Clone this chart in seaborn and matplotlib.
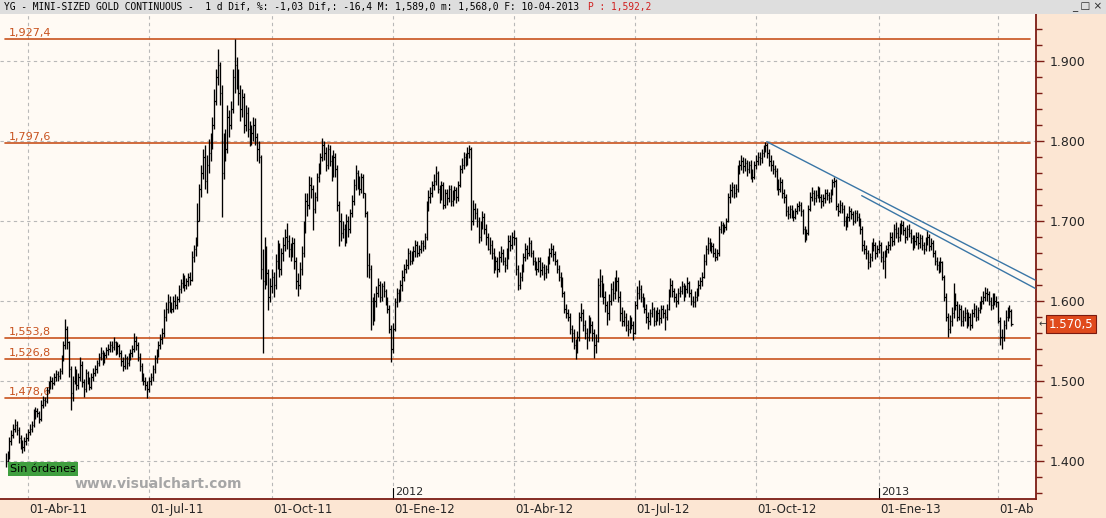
import numpy as np
import pandas as pd
import matplotlib
matplotlib.use("Agg")
import matplotlib.pyplot as plt
from matplotlib.patches import Rectangle
import seaborn as sns

# daily bars, mini-sized gold continuous
close = [
    1400, 1404, 1425, 1432, 1440, 1445, 1438, 1428, 1420, 1417,
    1425, 1428, 1436, 1440, 1445, 1458, 1462, 1460, 1452, 1470,
    1476, 1474, 1488, 1494, 1500, 1497, 1504, 1508, 1506, 1512,
    1528, 1545, 1565, 1548, 1515, 1485, 1500, 1512, 1495, 1505,
    1520, 1498, 1490, 1510, 1500, 1492, 1505, 1510, 1515, 1522,
    1530, 1535, 1526, 1532, 1538, 1540, 1545, 1542, 1548, 1538,
    1543, 1535, 1525, 1518, 1528, 1522, 1530, 1534, 1540, 1550,
    1545, 1530, 1518, 1505, 1500, 1495, 1490, 1500, 1505, 1515,
    1528, 1535, 1545, 1552, 1560, 1580, 1590, 1598, 1594, 1590,
    1600, 1595, 1602, 1615, 1622, 1628, 1620, 1624, 1630, 1626,
    1655, 1665, 1670, 1700, 1740, 1760, 1780, 1750, 1770, 1785,
    1795, 1820, 1850, 1880, 1895, 1860, 1760, 1800, 1790, 1830,
    1820, 1840, 1880, 1895, 1880, 1860, 1840, 1855, 1820, 1835,
    1815, 1800, 1810, 1820, 1805, 1790, 1780, 1640, 1625, 1660,
    1635, 1605, 1618, 1630, 1620, 1650, 1665, 1640, 1660, 1670,
    1680, 1675, 1665, 1660, 1672, 1650, 1625, 1620, 1640, 1660,
    1690, 1725, 1720, 1745, 1740, 1715, 1730, 1755, 1765, 1780,
    1795, 1785, 1770, 1790, 1775, 1760, 1780, 1765, 1720, 1700,
    1685, 1690, 1675, 1700, 1690, 1710, 1725, 1745, 1760, 1750,
    1740, 1755, 1735, 1710, 1645, 1640, 1600, 1580, 1600, 1610,
    1620, 1605, 1618, 1612, 1600, 1590, 1565, 1540, 1565, 1598,
    1610, 1605, 1620, 1630, 1640, 1645, 1660, 1650, 1655, 1662,
    1670, 1660, 1665, 1672, 1668, 1680, 1720, 1730, 1735, 1745,
    1750, 1760, 1740, 1730, 1745, 1720, 1735, 1728, 1740, 1725,
    1732, 1738, 1730, 1745, 1765, 1770, 1780, 1775, 1785, 1790,
    1700, 1715, 1710, 1700, 1680, 1695, 1705, 1690, 1680, 1665,
    1670, 1660, 1645, 1650, 1640, 1655, 1660, 1650, 1645, 1660,
    1675, 1670, 1680, 1678, 1640, 1620, 1630, 1640, 1655, 1665,
    1660, 1672, 1660, 1650, 1645, 1640, 1650, 1638, 1642, 1635,
    1640, 1650, 1660, 1665, 1658, 1650, 1640, 1630, 1625, 1610,
    1590, 1585, 1580, 1565, 1560, 1545, 1540, 1555, 1580, 1585,
    1570, 1560, 1555, 1575, 1570, 1560, 1545, 1550, 1620, 1625,
    1615, 1605, 1595, 1585, 1600, 1615, 1610, 1620, 1625, 1605,
    1585, 1575, 1580, 1570, 1565, 1575, 1570, 1560, 1595, 1610,
    1615, 1605, 1600, 1590, 1580, 1575, 1585, 1590, 1575, 1580,
    1585, 1578, 1590, 1585, 1580, 1590, 1610, 1620, 1612, 1605,
    1600, 1610, 1612, 1618, 1608, 1615, 1622, 1610, 1600, 1598,
    1605, 1612, 1620, 1625, 1630, 1650, 1665, 1672, 1670, 1668,
    1660, 1655, 1660, 1690, 1695, 1690, 1692, 1700, 1730, 1738,
    1742, 1735, 1740, 1765, 1770, 1775, 1768, 1772, 1765, 1770,
    1760, 1755, 1770, 1775, 1780, 1778, 1785, 1790, 1795, 1785,
    1775, 1770, 1765, 1762, 1745, 1740, 1748, 1735, 1730, 1712,
    1708, 1715, 1710, 1705, 1712, 1718, 1720, 1712, 1690, 1678,
    1685, 1715, 1730, 1735, 1728, 1732, 1738, 1730, 1725, 1728,
    1735, 1732, 1728, 1735, 1748, 1750, 1718, 1712, 1720, 1715,
    1700, 1695, 1705, 1712, 1708, 1700, 1710, 1705, 1700, 1690,
    1670, 1665, 1660, 1648, 1655, 1668, 1670, 1660, 1665, 1670,
    1655, 1650, 1660, 1665, 1670, 1680, 1675, 1690, 1685, 1680,
    1690, 1695, 1688, 1680, 1690, 1685, 1678, 1670, 1675, 1680,
    1672, 1678, 1670, 1665, 1675, 1680, 1668, 1672, 1660, 1650,
    1645, 1640, 1648, 1630, 1605, 1580, 1565, 1575, 1585, 1600,
    1595, 1580, 1590, 1575, 1580, 1585, 1575, 1580, 1570, 1585,
    1590, 1580, 1588, 1595, 1600, 1605, 1610, 1608, 1600, 1595,
    1605, 1600, 1598, 1575, 1555, 1555, 1570, 1580, 1585, 1587,
    1570.5,
]
high = [
    1410, 1412, 1430, 1438, 1446, 1452, 1450, 1442, 1432, 1426,
    1430, 1434, 1440, 1446, 1450, 1464, 1467, 1466, 1462, 1476,
    1481, 1480, 1492, 1499, 1506, 1505, 1510, 1513, 1512, 1516,
    1532, 1550, 1577, 1568, 1550, 1518, 1506, 1518, 1515, 1510,
    1530, 1524, 1502, 1515, 1512, 1504, 1510, 1516, 1520, 1526,
    1534, 1542, 1538, 1536, 1542, 1546, 1550, 1549, 1555, 1550,
    1548, 1546, 1538, 1530, 1533, 1531, 1535, 1539, 1544, 1560,
    1556, 1548, 1534, 1522, 1510, 1505, 1500, 1504, 1510, 1520,
    1532, 1540, 1550, 1558, 1566, 1590, 1598, 1608, 1606, 1598,
    1606, 1608, 1606, 1620, 1627, 1634, 1632, 1628, 1634, 1636,
    1662, 1670, 1680, 1722, 1746, 1770, 1790, 1795, 1782, 1802,
    1810, 1830, 1865, 1890, 1915, 1898, 1870, 1810, 1815, 1845,
    1838, 1850, 1890, 1927, 1905, 1890, 1870, 1865, 1860, 1845,
    1842, 1825, 1820, 1830, 1828, 1810, 1800, 1782, 1665, 1680,
    1668, 1640, 1628, 1640, 1636, 1658, 1676, 1672, 1666, 1680,
    1690, 1697, 1682, 1672, 1680, 1678, 1655, 1635, 1648, 1668,
    1700, 1735, 1735, 1756, 1755, 1745, 1736, 1760, 1772, 1785,
    1803, 1800, 1792, 1796, 1795, 1782, 1788, 1785, 1770, 1725,
    1710, 1700, 1696, 1708, 1706, 1715, 1732, 1752, 1770, 1764,
    1756, 1760, 1758, 1735, 1712, 1660, 1645, 1605, 1610, 1618,
    1628, 1625, 1622, 1624, 1615, 1605, 1595, 1570, 1572, 1603,
    1616, 1615, 1626, 1638, 1646, 1652, 1666, 1664, 1662, 1668,
    1676, 1675, 1670, 1676, 1676, 1685, 1725, 1738, 1742, 1750,
    1758, 1768, 1762, 1745, 1750, 1748, 1740, 1740, 1745, 1745,
    1738, 1744, 1742, 1750, 1770, 1778, 1786, 1785, 1792, 1795,
    1792, 1726, 1722, 1716, 1705, 1700, 1712, 1710, 1696, 1685,
    1680, 1676, 1666, 1656, 1655, 1662, 1668, 1665, 1655, 1666,
    1682, 1682, 1686, 1688, 1680, 1645, 1636, 1646, 1660, 1672,
    1670, 1680, 1676, 1664, 1654, 1650, 1655, 1654, 1648, 1646,
    1645, 1656, 1666, 1672, 1670, 1662, 1652, 1645, 1636, 1630,
    1612, 1596, 1590, 1584, 1570, 1565, 1552, 1562, 1586, 1597,
    1590, 1576, 1566, 1582, 1580, 1575, 1565, 1558, 1628, 1640,
    1632, 1622, 1612, 1600, 1608, 1622, 1625, 1630, 1638, 1630,
    1612, 1592, 1588, 1585, 1576, 1582, 1580, 1575, 1600, 1618,
    1626, 1620, 1610, 1605, 1596, 1586, 1590, 1598, 1592, 1588,
    1592, 1590, 1595, 1594, 1590, 1596, 1615, 1628, 1626, 1616,
    1610, 1616, 1618, 1625, 1622, 1620, 1630, 1625, 1615, 1606,
    1612, 1616, 1626, 1630, 1636, 1658, 1670, 1680, 1678, 1674,
    1672, 1666, 1665, 1694, 1700, 1698, 1696, 1703, 1735, 1746,
    1748, 1746, 1746, 1770, 1776, 1782, 1780, 1778, 1776, 1775,
    1776, 1765, 1775, 1782, 1786, 1786, 1790, 1795, 1798, 1797,
    1790, 1782, 1776, 1770, 1766, 1752, 1755, 1752, 1740, 1734,
    1718, 1720, 1720, 1714, 1716, 1722, 1725, 1724, 1715, 1694,
    1690, 1720, 1736, 1742, 1738, 1738, 1743, 1742, 1734, 1733,
    1740, 1740, 1736, 1740, 1752, 1755, 1752, 1722, 1726, 1724,
    1720, 1706, 1710, 1718, 1716, 1712, 1714, 1714, 1710, 1704,
    1694, 1676, 1670, 1664, 1660, 1674, 1678, 1674, 1670, 1676,
    1674, 1662, 1664, 1670, 1675, 1686, 1686, 1696, 1698, 1692,
    1697, 1701, 1700, 1692, 1695, 1696, 1690, 1682, 1682, 1686,
    1686, 1684, 1682, 1674, 1680, 1688, 1684, 1678, 1676, 1664,
    1655, 1650, 1654, 1650, 1632, 1610, 1585, 1582, 1592, 1622,
    1610, 1600, 1596, 1594, 1588, 1592, 1590, 1586, 1584, 1590,
    1597, 1594, 1592, 1600, 1606, 1612, 1617, 1616, 1612, 1604,
    1610, 1610, 1606, 1600, 1580, 1565, 1576, 1588, 1592, 1594,
    1589,
]
low = [
    1392, 1396, 1402, 1420, 1428, 1436, 1432, 1422, 1414, 1410,
    1412, 1419, 1424, 1432, 1436, 1442, 1452, 1454, 1447, 1450,
    1466, 1468, 1472, 1484, 1490, 1490, 1494, 1500, 1499, 1502,
    1508, 1524, 1540, 1540, 1505, 1463, 1475, 1496, 1488, 1490,
    1500, 1492, 1480, 1486, 1496, 1488, 1490, 1500, 1506, 1510,
    1518, 1526, 1520, 1522, 1528, 1532, 1536, 1536, 1538, 1532,
    1533, 1530, 1518, 1512, 1515, 1515, 1518, 1526, 1530, 1536,
    1538, 1524, 1512, 1500, 1494, 1488, 1478, 1486, 1495, 1500,
    1510, 1522, 1530, 1540, 1546, 1555, 1575, 1584, 1586, 1584,
    1586, 1590, 1590, 1598, 1610, 1616, 1612, 1615, 1618, 1619,
    1624, 1648, 1656, 1668, 1700, 1730, 1752, 1740, 1735, 1760,
    1775, 1790, 1815, 1845, 1870, 1845, 1705, 1752, 1775, 1785,
    1805, 1815, 1835, 1860, 1865, 1845, 1825, 1830, 1810, 1812,
    1805, 1793, 1795, 1800, 1795, 1775, 1772, 1627, 1535, 1615,
    1620, 1588, 1598, 1610, 1605, 1615, 1640, 1630, 1632, 1650,
    1662, 1665, 1655, 1650, 1655, 1640, 1615, 1606, 1615, 1632,
    1655, 1685, 1706, 1715, 1728, 1688, 1710, 1725, 1748, 1758,
    1775, 1776, 1762, 1765, 1768, 1750, 1755, 1755, 1712, 1668,
    1675, 1678, 1668, 1672, 1680, 1685, 1705, 1720, 1738, 1740,
    1732, 1735, 1728, 1705, 1630, 1628, 1563, 1570, 1575, 1592,
    1605, 1598, 1600, 1604, 1595, 1584, 1560, 1523, 1535, 1562,
    1592, 1598, 1600, 1612, 1624, 1635, 1640, 1645, 1646, 1650,
    1655, 1655, 1656, 1660, 1662, 1665, 1676, 1712, 1722, 1730,
    1738, 1745, 1735, 1722, 1726, 1715, 1716, 1720, 1724, 1718,
    1718, 1726, 1722, 1725, 1742, 1760, 1765, 1768, 1770, 1778,
    1688, 1695, 1702, 1692, 1672, 1675, 1690, 1684, 1670, 1663,
    1658, 1652, 1635, 1638, 1630, 1636, 1648, 1644, 1636, 1640,
    1652, 1662, 1665, 1670, 1632, 1613, 1615, 1625, 1636, 1650,
    1652, 1656, 1655, 1644, 1638, 1632, 1636, 1630, 1632, 1626,
    1628, 1635, 1646, 1655, 1650, 1645, 1634, 1625, 1617, 1605,
    1584, 1578, 1574, 1558, 1548, 1540, 1527, 1535, 1550, 1574,
    1562, 1552, 1540, 1550, 1560, 1550, 1528, 1535, 1548, 1605,
    1605, 1596, 1586, 1570, 1576, 1595, 1600, 1602, 1612, 1598,
    1575, 1568, 1568, 1562, 1556, 1560, 1564, 1551, 1558, 1590,
    1602, 1598, 1592, 1584, 1572, 1565, 1570, 1580, 1568, 1570,
    1574, 1570, 1572, 1578, 1563, 1576, 1588, 1605, 1605, 1598,
    1592, 1596, 1604, 1608, 1600, 1604, 1610, 1604, 1595, 1592,
    1592, 1600, 1606, 1614, 1618, 1628, 1645, 1658, 1662, 1660,
    1654, 1650, 1651, 1656, 1685, 1684, 1686, 1688, 1698, 1722,
    1730, 1728, 1730, 1736, 1758, 1764, 1760, 1762, 1756, 1760,
    1752, 1748, 1752, 1765, 1770, 1770, 1772, 1780, 1786, 1778,
    1768, 1762, 1758, 1755, 1738, 1732, 1736, 1728, 1722, 1706,
    1702, 1704, 1704, 1700, 1702, 1708, 1712, 1706, 1684, 1674,
    1676, 1682, 1712, 1725, 1720, 1724, 1728, 1724, 1716, 1718,
    1722, 1726, 1722, 1724, 1732, 1742, 1713, 1706, 1710, 1710,
    1694, 1688, 1692, 1700, 1702, 1695, 1697, 1700, 1694, 1684,
    1662, 1658, 1652, 1640, 1642, 1650, 1662, 1652, 1654, 1660,
    1648, 1640, 1628, 1654, 1660, 1664, 1668, 1670, 1678, 1674,
    1675, 1684, 1682, 1672, 1676, 1680, 1672, 1664, 1666, 1670,
    1665, 1666, 1664, 1658, 1662, 1670, 1662, 1664, 1655, 1644,
    1638, 1634, 1636, 1626, 1600, 1575, 1555, 1560, 1568, 1578,
    1588, 1574, 1576, 1568, 1568, 1574, 1566, 1568, 1563, 1566,
    1580, 1574, 1576, 1584, 1590, 1596, 1600, 1600, 1594, 1588,
    1590, 1594, 1592, 1572, 1545, 1540, 1550, 1565, 1574, 1578,
    1568,
]
first_day = "2011-03-16"

levels = [1927.4, 1797.6, 1553.8, 1526.8, 1478.6]
level_labels = ["1,927,4", "1,797,6", "1,553,8", "1,526,8", "1,478,6"]

# drawn trendlines (bar index, price)
trend1_bar = [408.7, 552.8]
trend1_val = [1798.8, 1625.9]
trend2_bar = [459.7, 552.8]
trend2_val = [1731.3, 1615.5]

quarter_days = ["2011-04-01", "2011-07-01", "2011-10-03", "2012-01-02", "2012-04-02",
                "2012-07-02", "2012-10-01", "2013-01-01", "2013-04-01"]
quarter_labels = ["01-Abr-11", "01-Jul-11", "01-Oct-11", "01-Ene-12", "01-Abr-12",
                  "01-Jul-12", "01-Oct-12", "01-Ene-13", "01-Ab"]
year_days = ["2012-01-02", "2013-01-01"]
year_labels = ["2012", "2013"]
price_ticks = [1400, 1500, 1600, 1700, 1800, 1900]
last_price = 1570.5

header = "YG - MINI-SIZED GOLD CONTINUOUS -  1 d Dif, %: -1,03 Dif,: -16,4 M: 1,589,0 m: 1,568,0 F: 10-04-2013"
header_red = "P : 1,592,2"

sns.set_style("white")
plt.rcParams['font.family'] = ['DejaVu Sans']

W, H = 1106, 518
def fx(p):
    return p / W
def fy(p):
    return 1 - p / H

maroon = "#7c1c14"
orange = "#c8521e"
plot_bg = "#fffaf4"
outer_bg = "#fce6d3"

fig = plt.figure(figsize=(W / 100, H / 100), dpi=100, facecolor=outer_bg)
fig.patches.append(Rectangle((0, fy(14)), 1, 14 / H, transform=fig.transFigure,
                             fc="#dedede", ec="none", zorder=0))

ax = fig.add_axes([0, fy(499), 1036 / W, (499 - 14) / H])
ax.set_facecolor(plot_bg)

dates = pd.bdate_range(first_day, periods=len(close))
x = np.arange(len(close))
ax.set_xlim(-3.06, 553.3)
ax.set_ylim(1352.1, 1958.4)

qpos = [dates.searchsorted(pd.Timestamp(d)) for d in quarter_days]
ypos = [dates.searchsorted(pd.Timestamp(d)) for d in year_days]

# grid
for p in qpos:
    ax.axvline(p, color="#b8b8b8", lw=0.8, ls=(0, (3, 3)), zorder=1)
for v in price_ticks:
    ax.axhline(v, color="#b8b8b8", lw=0.8, ls=(0, (3, 3)), zorder=1)

# support / resistance levels
for v, lab in zip(levels, level_labels):
    ax.axhline(v, xmin=0.005, xmax=0.994, color=orange, lw=1.2, zorder=2)
    ax.text(0.009, v + 1, lab, transform=ax.get_yaxis_transform(), color=orange,
            fontsize=8, ha="left", va="bottom", zorder=2)

# OHLC bars
ax.vlines(x, low, high, color="black", lw=0.95, zorder=3)
ax.hlines(close, x, x + 0.8, color="black", lw=0.9, zorder=3)

# trendlines
sns.lineplot(x=trend1_bar, y=trend1_val, ax=ax, color="#3a76a6", lw=1.0, zorder=4)
sns.lineplot(x=trend2_bar, y=trend2_val, ax=ax, color="#3a76a6", lw=1.0, zorder=4)

# axes style
for s in ["left", "top"]:
    ax.spines[s].set_visible(False)
for s in ["right", "bottom"]:
    ax.spines[s].set_color(maroon)
    ax.spines[s].set_linewidth(1.3)

ax.yaxis.tick_right()
ax.set_yticks(price_ticks)
ax.set_yticklabels([f"{v / 1000:.3f}" for v in price_ticks])
ax.set_yticks(np.arange(1360, 1960, 20), minor=True)
ax.tick_params(axis="y", which="major", direction="out", length=6, width=1,
               color=maroon, labelsize=9, pad=4)
ax.tick_params(axis="y", which="minor", direction="out", length=4, width=1, color=maroon)
ax.set_xticks(qpos)
ax.set_xticklabels([])
ax.tick_params(axis="x", which="major", direction="out", length=8, width=1, color=maroon)

xt = ax.get_xaxis_transform()
for p, lab in zip(qpos, quarter_labels):
    ax.text(p + 0.8, -0.008, lab, transform=xt, ha="left", va="top", fontsize=8.5,
            clip_on=False)
for p, lab in zip(ypos, year_labels):
    ax.plot([p, p], [0, 0.022], transform=xt, color="black", lw=0.8, clip_on=False)
    ax.text(p + 1.2, 0.004, lab, transform=xt, ha="left", va="bottom", fontsize=8)

ax.set_xlabel("")
ax.set_ylabel("")

# last price tag
yt = ax.get_yaxis_transform()
ax.text(1.012, last_price, "1.570,5", transform=yt, ha="left", va="center", color="white",
        fontsize=8.5, clip_on=False,
        bbox=dict(boxstyle="square,pad=0.22", fc="#e04a1c", ec="#7a1a10", lw=0.8))
ax.text(1.002, last_price, "\u2190", transform=yt, ha="left", va="center", fontsize=7,
        color="#333333", clip_on=False)

# header and decorations
fig.text(fx(4), fy(7), header, fontsize=6.95, family="DejaVu Sans Mono", va="center",
         ha="left", color="black")
fig.text(fx(588), fy(7), header_red, fontsize=6.95,
         family="DejaVu Sans Mono", va="center", ha="left", color="#d02020")
fig.text(fx(1072), fy(7), "_ \u25a1 \u00d7", fontsize=7.5, va="center", ha="left")

fig.text(fx(10), fy(469), "Sin \u00f3rdenes", fontsize=8, va="center", ha="left",
         color="black", bbox=dict(boxstyle="square,pad=0.2", fc="#3f9e3f", ec="none"))
fig.text(fx(75), fy(484), "www.visualchart.com", fontsize=10, fontweight="bold",
         color="#a6a6a6", va="center", ha="left")

fig.savefig("out.png", dpi=100, facecolor=outer_bg)
